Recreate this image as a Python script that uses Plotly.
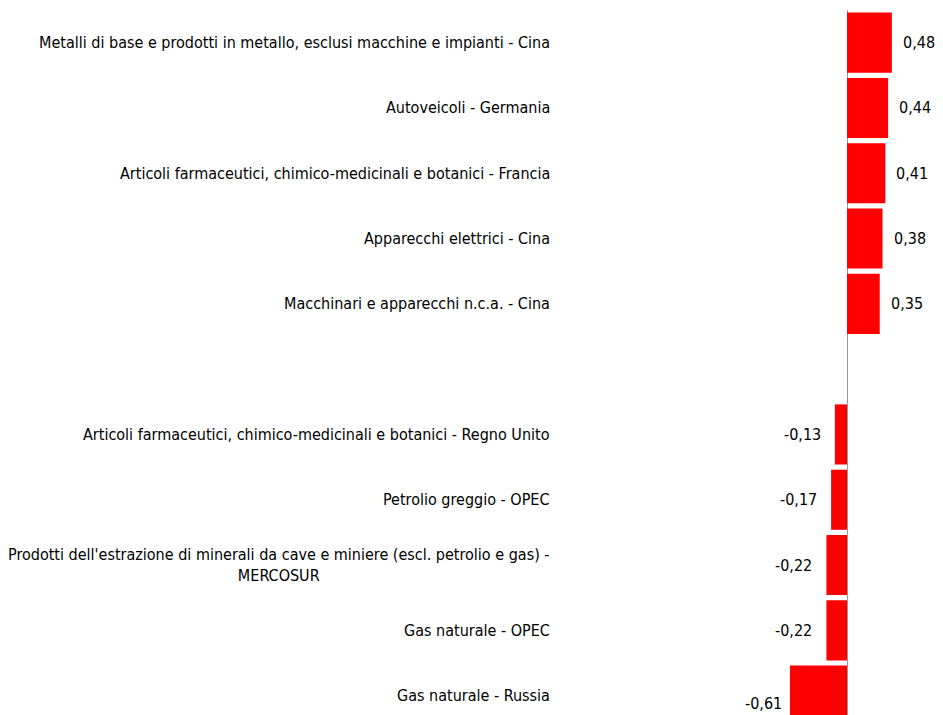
import plotly.graph_objects as go

categories = [
    "Metalli di base e prodotti in metallo, esclusi macchine e impianti - Cina",
    "Autoveicoli - Germania",
    "Articoli farmaceutici, chimico-medicinali e botanici - Francia",
    "Apparecchi elettrici - Cina",
    "Macchinari e apparecchi n.c.a. - Cina",
    "",
    "Articoli farmaceutici, chimico-medicinali e botanici - Regno Unito",
    "Petrolio greggio - OPEC",
    "Prodotti dell'estrazione di minerali da cave e miniere (escl. petrolio e gas) -<br>MERCOSUR",
    "Gas naturale - OPEC",
    "Gas naturale - Russia",
]
values = [0.48, 0.44, 0.41, 0.38, 0.35, None, -0.13, -0.17, -0.22, -0.22, -0.61]

FONT = "DejaVu Sans Condensed, Liberation Sans, Arial"
FS = 16
W, H = 935, 707          # page body adds an 8px margin
zero_px = 839
ppu = 93.5
slot_px = 65.3
x_left = -zero_px / ppu
x_right = (W - zero_px) / ppu
label_x = -(zero_px - 544) / ppu
top_margin = 2
y_bottom = -0.5 + (H - top_margin) / slot_px

ypos = list(range(len(categories)))

fig = go.Figure()
fig.add_trace(go.Bar(
    y=ypos, x=values, orientation="h",
    marker=dict(color="#ff0000", line=dict(width=0)),
    hoverinfo="skip",
))

annotations = []
for i, (c, v) in enumerate(zip(categories, values)):
    if c:
        annotations.append(dict(x=label_x, y=i, xref="x", yref="y", text=c,
                                showarrow=False, xanchor="right", yanchor="middle",
                                align="center", font=dict(family=FONT, size=FS, color="#000")))
    if v is not None:
        txt = f"{v:.2f}".replace(".", ",")
        if v >= 0:
            annotations.append(dict(x=v, y=i, xref="x", yref="y", text=txt,
                                    showarrow=False, xanchor="left", yanchor="middle", xshift=9,
                                    font=dict(family=FONT, size=FS, color="#000")))
        else:
            big = v < -0.5
            annotations.append(dict(x=v, y=i, xref="x", yref="y", text=txt,
                                    showarrow=False, xanchor="right", yanchor="middle",
                                    xshift=-6 if big else -12,
                                    yshift=-8 if big else 0,
                                    font=dict(family=FONT, size=FS, color="#000")))

fig.update_layout(
    width=W, height=H,
    margin=dict(l=0, r=0, t=top_margin, b=0),
    paper_bgcolor="white", plot_bgcolor="white",
    bargap=0.08,
    showlegend=False,
    xaxis=dict(range=[x_left, x_right], showgrid=False, showticklabels=False,
               zeroline=True, zerolinecolor="#999999", zerolinewidth=1, showline=False, ticks=""),
    yaxis=dict(range=[y_bottom, -0.5], showgrid=False, showticklabels=False, zeroline=False,
               showline=False, ticks=""),
    annotations=annotations,
    font=dict(family=FONT),
)

fig.write_html("out.html")
